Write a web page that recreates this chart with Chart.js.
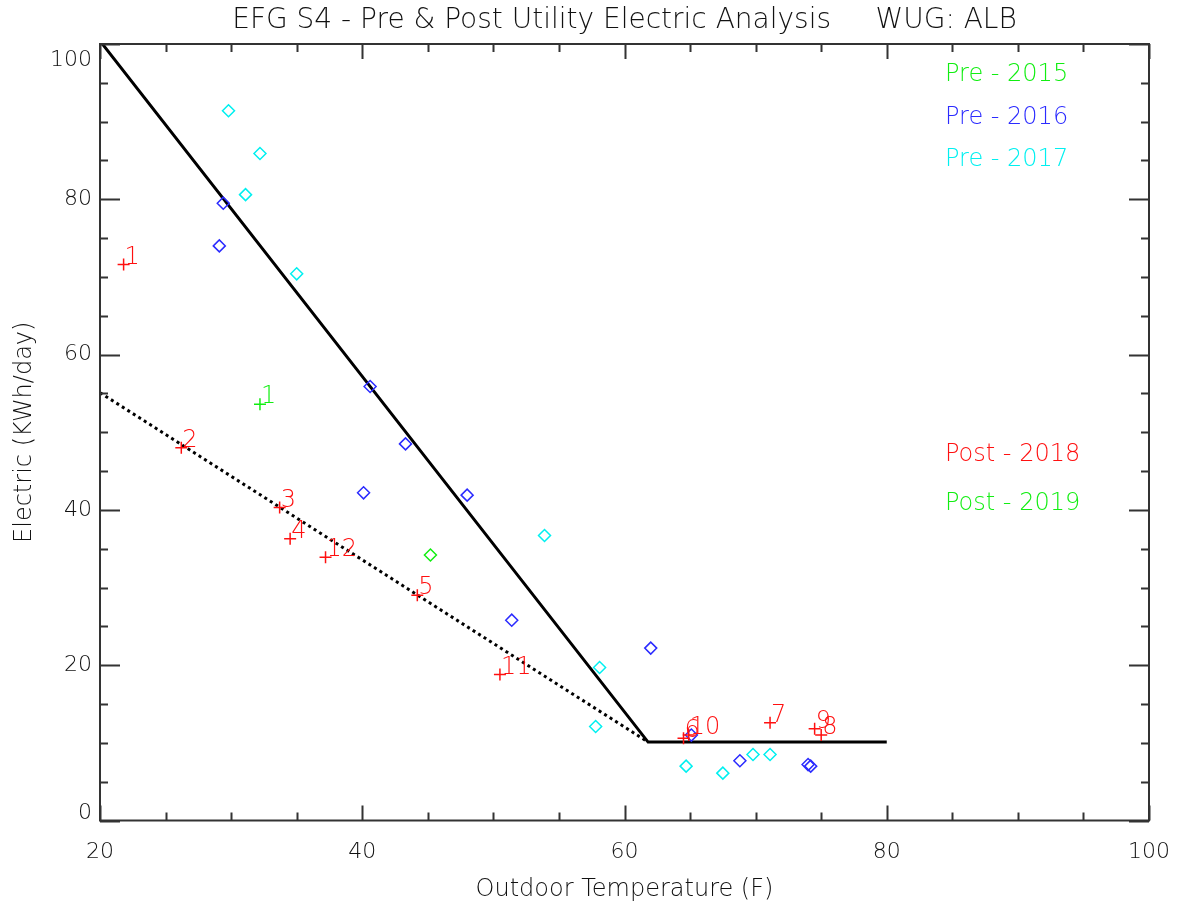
<!DOCTYPE html>
<html>
<head>
<meta charset="utf-8">
<title>EFG S4 - Pre & Post Utility Electric Analysis</title>
<script src="https://cdn.jsdelivr.net/npm/chart.js@4.4.1/dist/chart.umd.min.js"></script>
<style>
  html, body { margin: 0; padding: 0; background: #fff; }
  #wrap { width: 1178px; height: 907px; }
</style>
</head>
<body>
<div id="wrap"><canvas id="chart" width="1178" height="907"></canvas></div>
<script>
// ---------- fonts & colours ----------
const FONT = '"DejaVu Sans", sans-serif';
const WEIGHT = 200;
const INK = '#111';
const GREEN = '#11ee11';
const BLUE = '#2b2bff';
const CYAN = '#00f0f0';
const RED = '#ff1010';

// ---------- data: outdoor temp (F) vs electric (kWh/day) ----------
const pre2015Temp = [45.2];
const pre2015Elec = [34.2];

const pre2016Temp = [29.4, 29.1, 40.6, 43.3, 40.1, 48.0, 51.4, 62.0, 65.1, 68.8, 74.0, 74.2];
const pre2016Elec = [79.5, 74.0, 55.9, 48.5, 42.2, 41.9, 25.8, 22.2, 11.0, 7.7, 7.2, 7.0];

const pre2017Temp = [29.8, 32.2, 31.1, 35.0, 53.9, 58.1, 57.8, 64.7, 67.5, 69.8, 71.1];
const pre2017Elec = [91.4, 85.9, 80.6, 70.4, 36.7, 19.7, 12.1, 7.0, 6.1, 8.5, 8.5];

// post points are tagged with their month number
const post2018Month = [1, 2, 3, 4, 5, 6, 7, 8, 9, 10, 11, 12];
const post2018Temp = [21.8, 26.2, 33.7, 34.5, 44.2, 64.5, 71.1, 75.0, 74.5, 64.9, 50.5, 37.2];
const post2018Elec = [71.6, 48.0, 40.3, 36.3, 29.0, 10.6, 12.6, 11.0, 11.8, 11.0, 18.8, 33.9];

const post2019Month = [1];
const post2019Temp = [32.2];
const post2019Elec = [53.6];

// fitted lines (pre = solid, post = dotted)
const preFitTemp = [20, 61.8, 80];
const preFitElec = [100.4, 10.1, 10.1];
const postFitTemp = [20, 61.8];
const postFitElec = [55.1, 10.1];

// axis ticks
const xTicks = [20, 40, 60, 80, 100];
const yTicks = [0, 20, 40, 60, 80, 100];
const MINOR_STEP = 5;

const preLegend = [['Pre - 2015', GREEN], ['Pre - 2016', BLUE], ['Pre - 2017', CYAN]];
const postLegend = [['Post - 2018', RED], ['Post - 2019', GREEN]];

const toPoints = (xs, ys) => xs.map((x, i) => ({ x: x, y: ys[i] }));

function diamonds(label, xs, ys, color) {
    return {
        label: label,
        data: toPoints(xs, ys),
        pointStyle: 'rectRot',
        pointRadius: 6,
        borderWidth: 1.5,
        borderColor: color,
        backgroundColor: 'rgba(0,0,0,0)'
    };
}

function crosses(label, xs, ys, months, color) {
    return {
        label: label,
        data: toPoints(xs, ys),
        months: months,
        pointStyle: 'cross',
        pointRadius: 6,
        borderWidth: 1.5,
        borderColor: color,
        backgroundColor: color
    };
}

// ---------- plugins ----------
// Box around the plot with inward major/minor ticks on all four sides
const framePlugin = {
    id: 'frame',
    afterDraw(chart) {
        const { ctx, chartArea: a, scales } = chart;
        const xs = scales.x, ys = scales.y;
        ctx.save();
        ctx.strokeStyle = '#333';
        ctx.lineWidth = 2;
        ctx.strokeRect(a.left, a.top, a.right - a.left, a.bottom - a.top);
        ctx.beginPath();
        for (let v = xs.min; v <= xs.max; v += MINOR_STEP) {
            const px = Math.round(xs.getPixelForValue(v)) + 0.5;
            const len = xTicks.includes(v) ? 15 : 8;
            ctx.moveTo(px, a.bottom); ctx.lineTo(px, a.bottom - len);
            ctx.moveTo(px, a.top); ctx.lineTo(px, a.top + len);
        }
        for (let v = ys.min; v <= ys.max; v += MINOR_STEP) {
            const py = Math.round(ys.getPixelForValue(v)) + 0.5;
            const len = yTicks.includes(v) ? 20 : 8;
            ctx.moveTo(a.left, py); ctx.lineTo(a.left + len, py);
            ctx.moveTo(a.right, py); ctx.lineTo(a.right - len, py);
        }
        ctx.stroke();
        ctx.restore();
    }
};

// Month numbers next to the post-retrofit crosses
const monthLabelPlugin = {
    id: 'monthLabels',
    afterDatasetsDraw(chart) {
        const ctx = chart.ctx;
        ctx.save();
        ctx.font = WEIGHT + ' 24px ' + FONT;
        ctx.textAlign = 'left';
        ctx.textBaseline = 'alphabetic';
        chart.data.datasets.forEach((ds, i) => {
            if (!ds.months) return;
            ctx.fillStyle = ds.borderColor;
            chart.getDatasetMeta(i).data.forEach((pt, j) => {
                ctx.fillText(String(ds.months[j]), pt.x + 1, pt.y - 1);
            });
        });
        ctx.restore();
    }
};

// Coloured text legend inside the plot area
const textLegendPlugin = {
    id: 'textLegend',
    afterDraw(chart) {
        const { ctx, chartArea: a } = chart;
        ctx.save();
        ctx.font = WEIGHT + ' 24px ' + FONT;
        ctx.textAlign = 'left';
        ctx.textBaseline = 'alphabetic';
        const left = a.left + 845;
        preLegend.forEach(([text, color], i) => {
            ctx.fillStyle = color;
            ctx.fillText(text, left, a.top + 37 + i * 42.5);
        });
        postLegend.forEach(([text, color], i) => {
            ctx.fillStyle = color;
            ctx.fillText(text, left, a.top + 417 + i * 48.5);
        });
        ctx.restore();
    }
};

// ---------- chart ----------
const ctx = document.getElementById('chart').getContext('2d');

const yTop = yTicks[yTicks.length - 1];
const yBottom = yTicks[0];

new Chart(ctx, {
    type: 'scatter',
    data: {
        datasets: [
            crosses('Post - 2018', post2018Temp, post2018Elec, post2018Month, RED),
            crosses('Post - 2019', post2019Temp, post2019Elec, post2019Month, GREEN),
            diamonds('Pre - 2015', pre2015Temp, pre2015Elec, GREEN),
            diamonds('Pre - 2016', pre2016Temp, pre2016Elec, BLUE),
            diamonds('Pre - 2017', pre2017Temp, pre2017Elec, CYAN),
            {
                label: 'Pre fit',
                data: toPoints(preFitTemp, preFitElec),
                showLine: true,
                pointRadius: 0,
                borderColor: '#000',
                borderWidth: 3
            },
            {
                label: 'Post fit',
                data: toPoints(postFitTemp, postFitElec),
                showLine: true,
                pointRadius: 0,
                borderColor: '#000',
                borderWidth: 3,
                borderDash: [3, 3.5]
            }
        ]
    },
    options: {
        responsive: false,
        animation: false,
        devicePixelRatio: 1,
        layout: { padding: { left: 0, right: 29, top: 0, bottom: 0 } },
        plugins: {
            legend: { display: false },
            tooltip: { enabled: false },
            title: {
                display: true,
                fullSize: false,
                text: 'EFG S4 - Pre & Post Utility Electric Analysis     WUG: ALB',
                color: INK,
                font: { family: FONT, size: 28, weight: WEIGHT },
                padding: { top: 4, bottom: 6.4 }
            }
        },
        scales: {
            x: {
                type: 'linear',
                position: 'bottom',
                min: 20,
                max: 100,
                afterBuildTicks: s => { s.ticks = xTicks.map(v => ({ value: v })); },
                afterFit: s => { s.height = 86.5; s.paddingLeft = 0; s.paddingRight = 0; },
                grid: { display: false, drawTicks: false },
                border: { display: false },
                ticks: {
                    color: INK,
                    font: { family: FONT, size: 22, weight: WEIGHT },
                    padding: 19,
                    maxRotation: 0
                },
                title: {
                    display: true,
                    text: 'Outdoor Temperature (F)',
                    color: INK,
                    font: { family: FONT, size: 24, weight: WEIGHT },
                    padding: { top: 0, bottom: 3 }
                }
            },
            y: {
                type: 'linear',
                position: 'left',
                min: 0,
                max: 100,
                afterBuildTicks: s => { s.ticks = yTicks.map(v => ({ value: v })); },
                afterFit: s => { s.width = 100; s.paddingTop = 0; s.paddingBottom = 0; },
                grid: { display: false, drawTicks: false },
                border: { display: false },
                ticks: {
                    color: INK,
                    // end labels are nudged inside the axis range via a blank line
                    font: c => ({
                        family: FONT, size: 22, weight: WEIGHT,
                        lineHeight: c.tick && c.tick.value === yTop ? 1.45
                                  : c.tick && c.tick.value === yBottom ? 0.62 : 1.2
                    }),
                    padding: 8,
                    callback: v => v === yTop ? ['', String(v)]
                                 : v === yBottom ? [String(v), ''] : String(v)
                },
                title: {
                    display: true,
                    text: 'Electric (KWh/day)',
                    color: INK,
                    font: { family: FONT, size: 24, weight: WEIGHT },
                    padding: { top: 10, bottom: 0 }
                }
            }
        }
    },
    plugins: [framePlugin, monthLabelPlugin, textLegendPlugin]
});
</script>
</body>
</html>
